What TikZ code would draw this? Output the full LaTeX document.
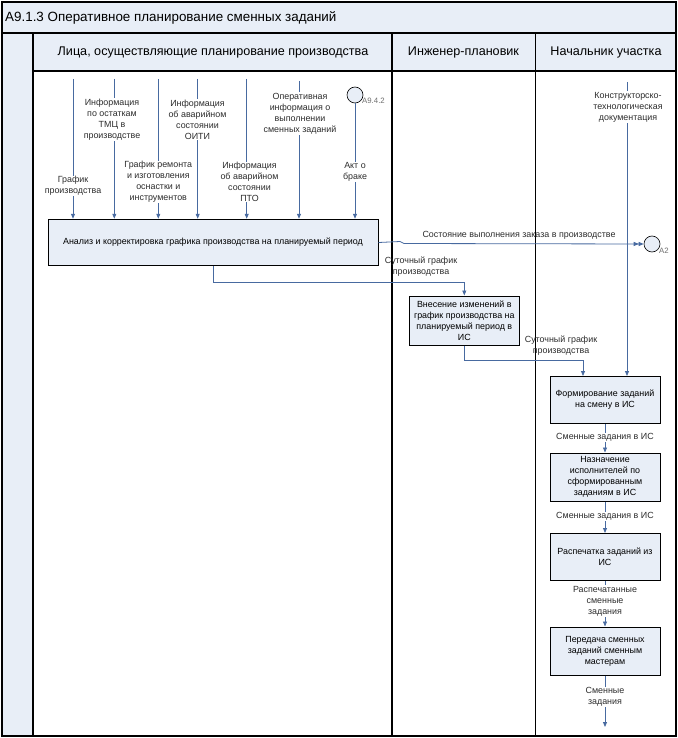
\documentclass[tikz,border=0pt]{standalone}
\usepackage{fontspec}
\setmainfont{Liberation Sans}
\usetikzlibrary{arrows.meta,calc}
\definecolor{bluefill}{RGB}{232,238,247}
\definecolor{flowc}{RGB}{72,106,160}
\definecolor{lblc}{RGB}{45,45,45}
\definecolor{refc}{RGB}{110,110,110}
\tikzset{
  lane/.style={draw=black, line width=1.1pt},
  proc/.style={draw=black, line width=1pt, fill=bluefill, align=center, inner sep=1pt,
    font=\fontsize{8.9}{11}\selectfont, minimum width=110pt},
  flow/.style={draw=flowc, line width=0.8pt, -{Triangle[length=5pt,width=4pt]}},
  flowtwo/.style={draw=flowc, line width=0.8pt, -{Triangle[length=5pt,width=4pt]Triangle[length=5pt,width=4pt]}},
  lbl/.style={fill=white, align=center, inner sep=0.6pt, text=lblc, font=\fontsize{8.9}{11}\selectfont},
  lblnf/.style={align=center, inner sep=0.6pt, text=lblc, font=\fontsize{8.9}{11}\selectfont},
  evt/.style={circle, draw=black, line width=0.6pt, fill=bluefill, minimum size=16pt, inner sep=0pt},
  reflbl/.style={text=refc, inner sep=0pt, font=\fontsize{7.8}{9}\selectfont},
  hdr/.style={font=\fontsize{12.6}{15}\selectfont, text=black, inner sep=0pt}
}
\begin{document}
\begin{tikzpicture}[x=1pt,y=-1pt]
\useasboundingbox (0,0) rectangle (677,738);
% frame & lanes
\fill[bluefill] (2,2) rectangle (676,33);
\fill[bluefill] (2,33) rectangle (33,736);
\fill[bluefill] (33,33) rectangle (676,71);
\draw[lane] (2,2) rectangle (676,736);
\draw[lane] (2,33) -- (676,33);
\draw[lane] (33,71) -- (676,71);
\draw[lane] (33,33) -- (33,736);
\draw[lane] (392,33) -- (392,736);
\draw[lane] (535.5,33) -- (535.5,736);
\node[hdr, anchor=west, font=\fontsize{13.4}{15}\selectfont] (title) at (5,17.5) {A9.1.3 Оперативное планирование сменных заданий};
\node[hdr] (h1) at (213,52) {Лица, осуществляющие планирование производства};
\node[hdr] (h2) at (463.5,52) {Инженер-плановик};
\node[hdr] (h3) at (606,52) {Начальник участка};

% main box
\node[proc, minimum width=330pt, minimum height=46.5pt] (main) at (213,242.5)
  {Анализ и корректировка графика производства на планируемый период};

% inputs
\coordinate (i1) at (73,79);
\coordinate (i2) at (114.3,79);
\coordinate (i3) at (158.3,79);
\coordinate (i4) at (197.7,79);
\coordinate (i5) at (246.7,79);
\coordinate (i6) at (299,81);
\node[evt] (a942) at (355,95) {};
\node[reflbl, anchor=west] (a942l) at (362,101) {A9.4.2};
\foreach \c in {i1,i2,i3,i4,i5,i6} {\draw[flow] (\c) -- (\c |- main.north);}
\draw[flow] (a942.south) -- (a942.south |- main.north);
\node[lbl] (l1) at (73,186) {График\\производства};
\node[lbl] (l2) at (112,119.5) {Информация\\по остаткам\\ТМЦ в\\производстве};
\node[lbl] (l3) at (158.3,182) {График ремонта\\и изготовления\\оснастки и\\инструментов};
\node[lbl] (l4) at (197.5,119.5) {Информация\\об аварийном\\состоянии\\ОИТИ};
\node[lbl] (l5) at (249.5,182) {Информация\\об аварийном\\состоянии\\ПТО};
\node[lbl] (l6) at (300,113.5) {Оперативная\\информация о\\выполнении\\сменных заданий};
\node[lbl] (l7) at (355,172) {Акт о\\браке};

% output A2
\node[evt] (a2) at (652,244) {};
\node[reflbl, anchor=west] (a2l) at (659,251) {A2};
\draw[flowtwo] (main.east) -- (400,241.5) -- (404,243.5) -- (a2.west);
\node[lblnf] (lout) at (519,235) {Состояние выполнения заказа в производстве};

% box 2
\node[proc, minimum width=110pt, minimum height=49pt] (b2) at (464.3,320.5)
  {Внесение изменений в\\график производства на\\планируемый период в\\ИС};
\draw[flow] (main.south) -- (213,282.5) -| (b2.north);
\node[lblnf] (ls1) at (421,266.5) {Суточный график\\производства};

% doc input
\coordinate (doc) at (627,82);

% right column
\node[proc, minimum height=47pt] (b3) at (605,400) {Формирование заданий\\на смену в ИС};
\node[proc, minimum height=48pt] (b4) at (605,477) {Назначение\\исполнителей по\\сформированным\\заданиям в ИС};
\node[proc, minimum height=47pt] (b5) at (605,557) {Распечатка заданий из\\ИС};
\node[proc, minimum height=48pt] (b6) at (605,651) {Передача сменных\\заданий сменным\\мастерам};
\coordinate (end) at (605,727);

\draw[flow] (doc) -- (doc |- b3.north);
\node[lbl] (ldoc) at (628,107) {Конструкторско-\\технологическая\\документация};

\draw[flow] (b2.south) -- (464.3,360.5) -| ([xshift=-22pt]b3.north);
\node[lblnf] (ls2) at (561,345.5) {Суточный график\\производства};

\draw[flow] (b3.south) -- (b4.north);
\node[lbl] (lb34) at (605,437.5) {Сменные задания в ИС};
\draw[flow] (b4.south) -- (b5.north);
\node[lbl] (lb45) at (605,516.5) {Сменные задания в ИС};
\draw[flow] (b5.south) -- (b6.north);
\node[lbl] (lb56) at (605,601) {Распечатанные\\сменные\\задания};
\draw[flow] (b6.south) -- (end);
\node[lbl] (lend) at (605,697) {Сменные\\задания};
\end{tikzpicture}
\end{document}
